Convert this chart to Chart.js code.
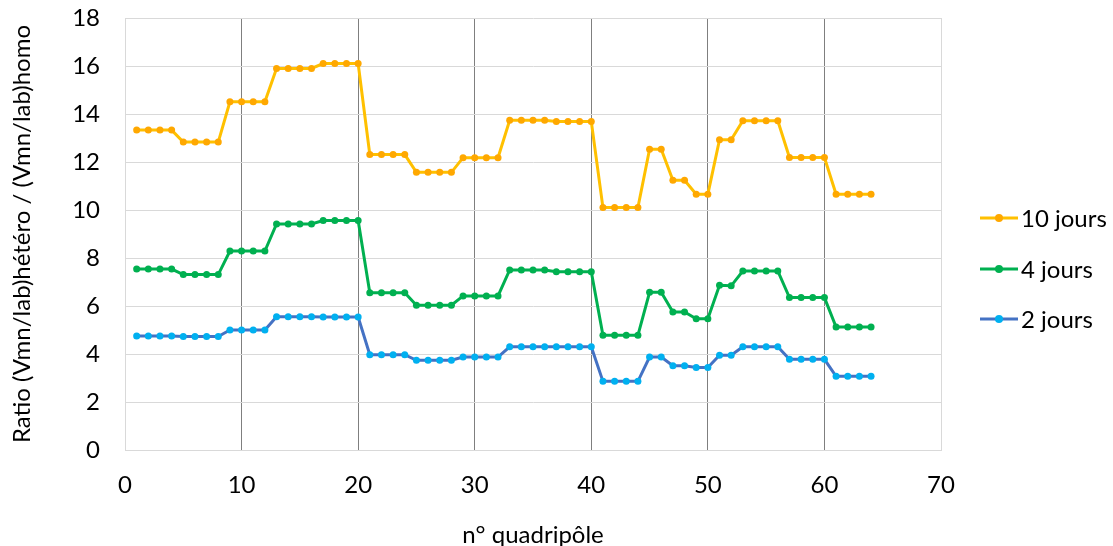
<!DOCTYPE html>
<html>
<head>
<meta charset="utf-8">
<script src="https://cdn.jsdelivr.net/npm/chart.js@4.4.1/dist/chart.umd.min.js"></script>
<style>
	html, body { margin: 0; padding: 0; background: #ffffff; }
	#wrap { width: 1113px; height: 546px; }
</style>
</head>
<body>
<div id="wrap"><canvas id="ratioChart" width="1113" height="546"></canvas></div>
<script>
// quadripole numbers
const quadripoles = [
	1, 2, 3, 4, 5, 6, 7, 8, 9, 10, 11, 12, 13, 14, 15, 16,
	17, 18, 19, 20, 21, 22, 23, 24, 25, 26, 27, 28, 29, 30, 31, 32,
	33, 34, 35, 36, 37, 38, 39, 40, 41, 42, 43, 44, 45, 46, 47, 48,
	49, 50, 51, 52, 53, 54, 55, 56, 57, 58, 59, 60, 61, 62, 63, 64,
];

const jours10 = [
	13.33, 13.33, 13.33, 13.33, 12.83, 12.83, 12.83, 12.83,
	14.51, 14.51, 14.51, 14.51, 15.9, 15.9, 15.9, 15.9,
	16.1, 16.1, 16.1, 16.1, 12.31, 12.31, 12.31, 12.31,
	11.57, 11.57, 11.57, 11.57, 12.18, 12.18, 12.18, 12.18,
	13.74, 13.74, 13.74, 13.74, 13.69, 13.69, 13.69, 13.69,
	10.1, 10.1, 10.1, 10.1, 12.53, 12.53, 11.24, 11.24,
	10.66, 10.66, 12.93, 12.93, 13.72, 13.72, 13.72, 13.72,
	12.19, 12.19, 12.19, 12.19, 10.66, 10.66, 10.66, 10.66,
];

const jours4 = [
	7.54, 7.54, 7.54, 7.54, 7.31, 7.31, 7.31, 7.31,
	8.29, 8.29, 8.29, 8.29, 9.42, 9.42, 9.42, 9.42,
	9.56, 9.56, 9.56, 9.56, 6.55, 6.55, 6.55, 6.55,
	6.03, 6.03, 6.03, 6.03, 6.42, 6.42, 6.42, 6.42,
	7.5, 7.5, 7.5, 7.5, 7.43, 7.43, 7.43, 7.43,
	4.78, 4.78, 4.78, 4.78, 6.57, 6.57, 5.75, 5.75,
	5.47, 5.47, 6.86, 6.84, 7.46, 7.46, 7.46, 7.46,
	6.35, 6.35, 6.35, 6.35, 5.12, 5.12, 5.12, 5.12,
];

const jours2 = [
	4.75, 4.75, 4.75, 4.75, 4.73, 4.73, 4.73, 4.73,
	5.0, 5.0, 5.0, 5.0, 5.55, 5.55, 5.55, 5.55,
	5.54, 5.54, 5.54, 5.54, 3.97, 3.97, 3.97, 3.97,
	3.74, 3.74, 3.74, 3.74, 3.87, 3.87, 3.87, 3.87,
	4.3, 4.3, 4.3, 4.3, 4.3, 4.3, 4.3, 4.3,
	2.86, 2.86, 2.86, 2.86, 3.87, 3.87, 3.51, 3.51,
	3.44, 3.44, 3.95, 3.95, 4.3, 4.3, 4.3, 4.3,
	3.78, 3.78, 3.78, 3.78, 3.07, 3.07, 3.07, 3.07,
];

const seriesLabels = ["10 jours", "4 jours", "2 jours"];

const FONT = "Lato, 'Liberation Sans', sans-serif";
const TEXT_SIZE = 24;

function toPoints(values) {
	return quadripoles.map((q, i) => ({ x: q, y: values[i] }));
}

// Excel-like legend: short line with a marker, text on the right
const sideLegend = {
	id: "sideLegend",
	afterDraw(chart) {
		const c = chart.ctx;
		const rows = [218, 269, 319];
		chart.data.datasets.forEach((ds, i) => {
			const y = rows[i];
			c.save();
			c.strokeStyle = ds.borderColor;
			c.lineWidth = 3;
			c.beginPath();
			c.moveTo(980, y);
			c.lineTo(1018, y);
			c.stroke();
			c.fillStyle = ds.pointBackgroundColor;
			c.beginPath();
			c.arc(999, y, 4, 0, Math.PI * 2);
			c.fill();
			c.fillStyle = "#000000";
			c.font = TEXT_SIZE + "px " + FONT;
			c.textBaseline = "middle";
			c.textAlign = "left";
			c.fillText(ds.label, 1021, y + 1);
			c.restore();
		});
	},
};

document.addEventListener("DOMContentLoaded", function () {
	const ctx = document.getElementById("ratioChart").getContext("2d");

	const colors = [
		{ line: "#FFC000", point: "#FFA800" },
		{ line: "#00B050", point: "#00B050" },
		{ line: "#4472C4", point: "#00B0F0" },
	];
	const series = [jours10, jours4, jours2];

	new Chart(ctx, {
		type: "line",
		data: {
			datasets: series.map((vals, i) => ({
				label: seriesLabels[i],
				data: toPoints(vals),
				borderColor: colors[i].line,
				backgroundColor: colors[i].point,
				pointBackgroundColor: colors[i].point,
				pointBorderColor: colors[i].point,
				pointRadius: 3.5,
				pointBorderWidth: 0,
				borderWidth: 3,
				tension: 0,
				fill: false,
			})),
		},
		options: {
			responsive: false,
			animation: false,
			devicePixelRatio: 1,
			layout: {
				padding: { top: 18, right: 172, bottom: 0, left: 0 },
			},
			plugins: {
				legend: { display: false },
				tooltip: { enabled: false },
			},
			scales: {
				x: {
					type: "linear",
					min: 0,
					max: 70,
					ticks: {
						stepSize: 10,
						color: "#000000",
						padding: 21,
						maxRotation: 0,
						font: { family: FONT, size: TEXT_SIZE },
					},
					grid: {
						drawTicks: false,
						lineWidth: 1,
						color: (c) =>
							c.tick && (c.tick.value === 0 || c.tick.value === 70)
								? "#d9d9d9"
								: "#7f7f7f",
					},
					border: { color: "#d9d9d9" },
					title: {
						display: true,
						text: "n° quadripôle",
						color: "#000000",
						padding: { top: 4, bottom: -4 },
						font: { family: FONT, size: TEXT_SIZE },
					},
					afterFit(scale) {
						scale.height = 96;
						scale.paddingLeft = 0;
						scale.paddingRight = 0;
					},
				},
				y: {
					min: 0,
					max: 18,
					ticks: {
						stepSize: 2,
						color: "#000000",
						padding: 25,
						font: { family: FONT, size: TEXT_SIZE },
					},
					grid: {
						drawTicks: false,
						color: "#d9d9d9",
						lineWidth: 1,
					},
					border: { color: "#d9d9d9" },
					title: {
						display: true,
						text: "Ratio (Vmn/lab)hétéro / (Vmn/lab)homo",
						color: "#000000",
						padding: { top: 8, bottom: 0 },
						font: { family: FONT, size: TEXT_SIZE },
					},
					afterFit(scale) {
						scale.width = 125;
						scale.paddingTop = 0;
						scale.paddingBottom = 0;
					},
				},
			},
		},
		plugins: [sideLegend],
	});
});
</script>
</body>
</html>
